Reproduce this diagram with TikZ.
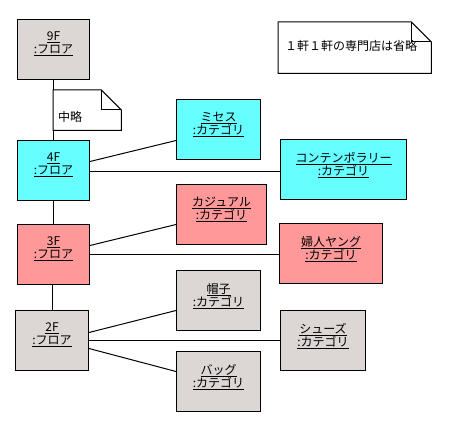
\documentclass[tikz,border=0pt]{standalone}
\usepackage{fontspec}
\setmainfont{Noto Sans CJK JP}
\usetikzlibrary{calc}
\definecolor{ccyan}{RGB}{102,255,255}
\definecolor{cpink}{RGB}{255,153,153}
\definecolor{cgray}{RGB}{220,214,212}
\newcommand\ulx[1]{\setbox0=\hbox{#1}\hbox to\wd0{\rlap{\copy0}\vrule width\wd0 height -1.3pt depth 2.3pt}}
\tikzset{
  obj/.style={draw, line width=1pt, inner sep=0pt, anchor=north west, minimum height=60pt},
  lbl/.style={anchor=north, align=center, inner sep=0pt, font=\fontsize{12}{13}\selectfont},
  conn/.style={line width=1pt},
  notebox/.style={inner sep=0pt, anchor=north west},
  notetext/.style={anchor=west, inner sep=0pt, font=\fontsize{12}{13}\selectfont},
}
\begin{document}
\begin{tikzpicture}[x=1pt,y=-1pt]
\useasboundingbox (0,0) rectangle (456,436);
% floors
\node[obj, fill=cgray, minimum width=72pt] (f9) at (17,19) {};
\node[obj, fill=ccyan, minimum width=72pt] (f4) at (17,140) {};
\node[obj, fill=cpink, minimum width=72pt] (f3) at (17,224) {};
\node[obj, fill=cgray, minimum width=73pt] (f2) at (15,310) {};
% categories
\node[obj, fill=ccyan, minimum width=84pt] (mis) at (176,99) {};
\node[obj, fill=ccyan, minimum width=126pt] (con) at (280,139) {};
\node[obj, fill=cpink, minimum width=90pt] (cas) at (176,184) {};
\node[obj, fill=cpink, minimum width=103pt] (fuj) at (279,223) {};
\node[obj, fill=cgray, minimum width=84pt] (bos) at (176,270) {};
\node[obj, fill=cgray, minimum width=85pt] (sho) at (280,310) {};
\node[obj, fill=cgray, minimum width=84pt] (bag) at (176,351) {};
% labels
\node[lbl] (f9t) at ([yshift=-13pt]f9.north) {\ulx{9F}\\\ulx{:フロア}};
\node[lbl] (f4t) at ([yshift=-13pt]f4.north) {\ulx{4F}\\\ulx{:フロア}};
\node[lbl] (f3t) at ([yshift=-13pt]f3.north) {\ulx{3F}\\\ulx{:フロア}};
\node[lbl] (f2t) at ([yshift=-13pt]f2.north) {\ulx{2F}\\\ulx{:フロア}};
\node[lbl] (mist) at ([yshift=-13pt]mis.north) {\ulx{ミセス}\\\ulx{:カテゴリ}};
\node[lbl] (cont) at ([yshift=-13pt]con.north) {\ulx{コンテンポラリー}\\\ulx{:カテゴリ}};
\node[lbl] (cast) at ([yshift=-13pt]cas.north) {\ulx{カジュアル}\\\ulx{:カテゴリ}};
\node[lbl] (fujt) at ([yshift=-13pt]fuj.north) {\ulx{婦人ヤング}\\\ulx{:カテゴリ}};
\node[lbl] (bost) at ([yshift=-13pt]bos.north) {\ulx{帽子}\\\ulx{:カテゴリ}};
\node[lbl] (shot) at ([yshift=-13pt]sho.north) {\ulx{シューズ}\\\ulx{:カテゴリ}};
\node[lbl] (bagt) at ([yshift=-13pt]bag.north) {\ulx{バッグ}\\\ulx{:カテゴリ}};
% connectors
\draw[conn] (f9.south) -- (f4.north);
\draw[conn] (f4.south) -- (f3.north);
\draw[conn] (f2.north) -- (f2.north |- f3.south);
\draw[conn] ([yshift=9pt]f4.east) -- ([yshift=-11pt]mis.west);
\draw[conn] ([yshift=-1pt]f4.east) -- ([yshift=-1pt]f4.east -| con.west);
\draw[conn] ([yshift=9pt]f3.east) -- ([yshift=-10pt]cas.west);
\draw[conn] (f3.east) -- (f3.east -| fuj.west);
\draw[conn] ([yshift=8pt]f2.east) -- ([yshift=-10pt]bos.west);
\draw[conn] (f2.east) -- (f2.east -| sho.west);
\draw[conn] ([yshift=-8pt]f2.east) -- ([yshift=10pt]bag.west);
% notes
\node[notebox, minimum width=68pt, minimum height=40pt] (n1) at (53,90) {};
\draw[line width=1pt, fill=white] (n1.north west) -- ([xshift=-20pt]n1.north east) -- ([yshift=-20pt]n1.north east) -- (n1.south east) -- (n1.south west) -- cycle;
\draw[line width=1pt] ([xshift=-20pt]n1.north east) |- ([yshift=-20pt]n1.north east);
\node[notetext] (n1t) at ([xshift=5pt,yshift=-7pt]n1.west) {中略};
\node[notebox, minimum width=153pt, minimum height=51pt] (n2) at (278,22) {};
\draw[line width=1pt, fill=white] (n2.north west) -- ([xshift=-20pt]n2.north east) -- ([yshift=-20pt]n2.north east) -- (n2.south east) -- (n2.south west) -- cycle;
\draw[line width=1pt] ([xshift=-20pt]n2.north east) |- ([yshift=-20pt]n2.north east);
\node[notetext] (n2t) at ([xshift=7pt,yshift=2pt]n2.west) {１軒１軒の専門店は省略};
\end{tikzpicture}
\end{document}
